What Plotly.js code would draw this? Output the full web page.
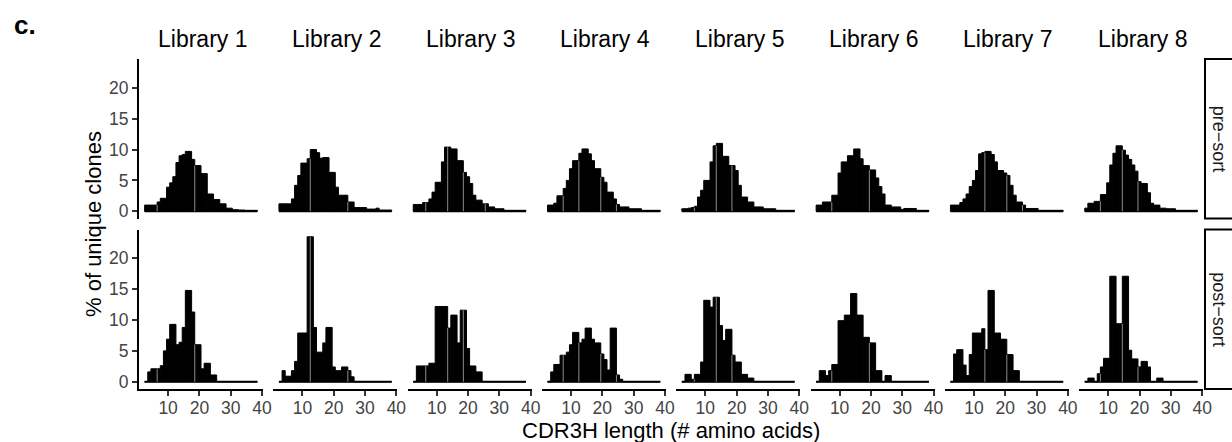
<!DOCTYPE html>
<html><head><meta charset="utf-8">
<script src="https://cdn.plot.ly/plotly-3.0.1.min.js"></script>
<style>html,body{margin:0;padding:0;background:#fff;}#chart{width:1232px;height:442px;}</style>
</head><body><div id="chart"></div>
<script>
// CDR3H length bins (# amino acids)
const lengths = [3,4,5,6,7,8,9,10,11,12,13,14,15,16,17,18,19,20,21,22,23,24,25,26,27,28,29,30,31,32,33,34,35,36,37,38];
const libraries = ['Library 1','Library 2','Library 3','Library 4','Library 5','Library 6','Library 7','Library 8'];
const sortStates = ['pre\u2212sort','post\u2212sort'];
const yTicks = [0,5,10,15,20];
const xTicks = [10,20,30,40];

// % of unique clones, pre-sort
const preSort1 = [1.0,1.0,1.0,1.0,1.5,2.1,2.1,3.9,4.6,5.6,7.9,9.0,9.2,9.7,9.7,8.4,7.4,7.4,6.1,6.1,2.8,2.8,1.9,1.9,1.2,1.2,0.5,0.5,0.25,0.25,0.2,0.2,0.15,0.15,0.15,0.15];
const preSort2 = [1.2,1.2,1.2,1.2,2.0,4.2,5.8,7.8,7.8,8.5,10.0,10.0,9.5,8.6,8.7,8.7,6.3,6.3,3.9,2.6,2.6,2.6,1.5,1.5,0.6,0.6,0.6,0.6,0.35,0.35,0.35,0.5,0.2,0.2,0.2,0.2];
const preSort3 = [1.1,1.1,1.1,1.4,1.4,2.0,3.1,4.7,4.7,8.0,10.4,10.4,10.1,10.1,8.2,8.2,6.3,5.6,4.5,2.6,1.8,1.8,1.2,1.2,0.7,0.7,0.4,0.4,0.4,0.15,0.15,0.15,0.15,0.15,0.15,0.15];
const preSort4 = [1.0,1.0,1.3,2.5,2.5,3.7,5.0,6.9,8.2,8.2,9.4,10.1,10.1,9.3,8.2,6.9,6.9,5.5,4.7,3.1,3.1,2.0,1.1,0.7,0.7,0.7,0.4,0.4,0.4,0.4,0.15,0.15,0.15,0.15,0.15,0.15];
const preSort5 = [0.4,0.4,0.5,0.6,0.8,2.3,3.4,5.0,5.0,8.0,10.6,11.0,11.0,8.9,8.9,7.4,7.4,6.6,4.2,2.3,2.3,1.5,1.5,0.7,0.7,0.7,0.4,0.4,0.4,0.4,0.15,0.15,0.15,0.15,0.15,0.15];
const preSort6 = [1.0,1.0,1.5,1.5,1.5,2.6,2.6,6.2,8.0,8.0,9.0,9.0,10.1,10.1,8.5,7.4,7.4,6.7,6.7,5.4,4.0,2.8,1.0,1.0,0.7,0.7,0.7,0.3,0.45,0.45,0.45,0.45,0.15,0.15,0.15,0.15];
const preSort7 = [1.0,1.0,1.0,1.4,2.0,2.8,4.0,5.0,6.6,9.3,9.5,9.7,9.7,9.2,8.0,6.6,6.6,6.2,5.8,4.2,2.6,1.5,1.5,1.0,0.45,0.45,0.45,0.45,0.15,0.15,0.15,0.15,0.15,0.15,0.15,0.15];
const preSort8 = [0.5,1.3,1.3,1.6,1.6,2.7,2.7,4.6,7.5,9.4,10.6,10.6,9.9,9.1,8.4,7.5,6.5,4.8,4.5,4.5,3.0,1.3,1.0,1.0,0.5,0.5,0.4,0.4,0.4,0.15,0.15,0.15,0.15,0.15,0.15,0.15];

// % of unique clones, post-sort
const postSort1 = [0,1.6,2.1,2.1,2.1,2.6,5.0,6.9,9.3,9.3,6.0,6.4,8.8,14.8,14.8,11.3,6.0,6.0,2.1,3.0,3.0,1.1,1.1,0,0,0,0,0,0,0,0,0,0,0,0,0];
const postSort2 = [0,1.8,0.9,0.9,1.8,3.3,7.9,7.9,7.9,23.5,23.5,8.8,4.8,4.8,6.3,8.8,8.8,2.4,1.8,1.8,2.4,2.4,1.8,0.8,0,0,0,0,0,0,0,0,0,0,0,0];
const postSort3 = [0,2.56,2.56,2.56,2.56,3.0,3.0,12.2,12.2,12.2,12.2,8.7,10.8,10.8,6.3,11.6,11.6,5.4,2.56,2.56,1.6,1.6,0,0,0,0,0,0,0,0,0,0,0,0,0,0];
const postSort4 = [0,1.6,2.8,2.8,4.3,4.3,4.8,6.0,8.0,8.0,6.3,6.9,8.7,8.7,6.9,6.3,6.3,4.5,3.6,1.9,8.7,8.7,1.1,0.4,0,0,0,0,0,0,0,0,0,0,0,0];
const postSort5 = [0,1.2,1.2,0.4,1.2,1.2,3.2,13.2,13.2,12.1,13.7,13.7,9.1,6.7,8.5,8.5,4.3,3.2,3.2,1.2,1.2,0.6,0.6,0,0,0,0,0,0,0,0,0,0,0,0,0];
const postSort6 = [0,1.8,1.8,1.0,1.8,2.8,2.8,9.9,9.9,10.8,10.8,14.3,14.3,10.8,10.8,7.2,7.2,6.3,6.3,1.8,1.8,0,1.0,1.0,0,0,0,0,0,0,0,0,0,0,0,0];
const postSort7 = [0,4.5,5.2,5.2,2.7,1.0,4.4,7.9,7.9,7.9,8.6,5.2,14.8,14.8,7.9,7.9,6.9,6.9,4.4,4.4,1.8,1.8,0,0,0,0,0,0,0,0,0,0,0,0,0,0];
const postSort8 = [0,0.6,0.6,0,1.3,2.4,3.8,3.8,17.1,17.1,9.4,9.4,17.1,17.1,5.1,3.7,3.7,2.4,3.3,3.3,2.4,0,0,0.6,0.6,0,0,0,0,0,0,0,0,0,0,0];

// faint light seams visible between adjacent bars (bin edges), per library column
const seamEdges1 = [6.5,18.5];
const seamEdges2 = [12.5,24.5];
const seamEdges3 = [6.5,13.5,18.5,25.5];
const seamEdges4 = [7.5,12.5,19.5,24.5];
const seamEdges5 = [6.5,13.5,18.5];
const seamEdges6 = [7.5,19.5];
const seamEdges7 = [13.5,20.5,25.5];
const seamEdges8 = [7.5,14.5,19.5];

const preSort = [preSort1,preSort2,preSort3,preSort4,preSort5,preSort6,preSort7,preSort8];
const postSort = [postSort1,postSort2,postSort3,postSort4,postSort5,postSort6,postSort7,postSort8];
const seamEdges = [seamEdges1,seamEdges2,seamEdges3,seamEdges4,seamEdges5,seamEdges6,seamEdges7,seamEdges8];

const W = 1232, H = 442;
const FONT = 'Liberation Sans, Arial, Helvetica, sans-serif';
const colLeft = 139, colPitch = 134.3, colW = 124;
const rowTop = [59, 229.5], rowBot = [218.5, 389];
const xRange = [0.7, 40.3], yRange = [-1.175, 24.675];

const data = [];
const shapes = [];
const annotations = [];
const layout = {
  width: W, height: H,
  margin: {l:0, r:0, t:0, b:0, pad:0},
  paper_bgcolor: '#fff', plot_bgcolor: 'rgba(0,0,0,0)',
  showlegend: false, bargap: 0, barmode: 'overlay',
  font: {family: FONT, color: '#000'}
};

function valueAt(vals, x) {
  const i = lengths.indexOf(x);
  return i < 0 ? 0 : vals[i];
}

for (let r = 0; r < 2; r++) {
  for (let c = 0; c < 8; c++) {
    const n = r * 8 + c + 1;
    const xa = n === 1 ? 'x' : 'x' + n;
    const ya = n === 1 ? 'y' : 'y' + n;
    const xKey = n === 1 ? 'xaxis' : 'xaxis' + n;
    const yKey = n === 1 ? 'yaxis' : 'yaxis' + n;
    const vals = r === 0 ? preSort[c] : postSort[c];
    const x0 = colLeft + c * colPitch;

    data.push({
      type: 'bar', x: lengths, y: vals, xaxis: xa, yaxis: ya, width: 1,
      marker: {color: '#000', line: {color: '#000', width: 1}}, hoverinfo: 'skip'
    });
    data.push({
      type: 'scatter', mode: 'lines', xaxis: xa, yaxis: ya,
      x: [lengths[0] - 0.5, lengths[lengths.length - 1] + 0.5], y: [0, 0],
      line: {color: '#000', width: 2.2}, hoverinfo: 'skip'
    });

    seamEdges[c].forEach(e => {
      const h = Math.min(valueAt(vals, e - 0.5), valueAt(vals, e + 0.5));
      if (h > 0) {
        shapes.push({type: 'line', xref: xa, yref: ya, x0: e, x1: e, y0: 0, y1: h,
          line: {color: 'rgb(140,140,140)', width: 1}, layer: 'above'});
      }
    });

    const bottomRow = r === 1;
    layout[xKey] = {
      domain: [x0 / W, (x0 + colW) / W], range: xRange, anchor: ya,
      showgrid: false, zeroline: false, fixedrange: true,
      showline: bottomRow, linecolor: '#000', linewidth: 2,
      ticks: bottomRow ? 'outside' : '', ticklen: 5, tickwidth: 2, tickcolor: '#333',
      tickmode: 'array', tickvals: xTicks, ticktext: xTicks.map(String),
      showticklabels: bottomRow, ticklabelstandoff: -3,
      tickfont: {family: FONT, size: 17.5, color: '#444'}
    };
    const firstCol = c === 0;
    layout[yKey] = {
      domain: [1 - rowBot[r] / H, 1 - rowTop[r] / H], range: yRange, anchor: xa,
      showgrid: false, zeroline: false, fixedrange: true,
      showline: firstCol, linecolor: '#000', linewidth: 2,
      ticks: firstCol ? 'outside' : '', ticklen: 5, tickwidth: 2, tickcolor: '#333',
      tickmode: 'array', tickvals: yTicks, ticktext: yTicks.map(String),
      showticklabels: firstCol,
      tickfont: {family: FONT, size: 17.5, color: '#444'}
    };

    if (r === 0) {
      annotations.push({xref: 'paper', yref: 'paper', x: (x0 + colW / 2 + 1) / W, y: 1 - 39 / H,
        xanchor: 'center', yanchor: 'middle', showarrow: false, text: libraries[c],
        font: {family: FONT, size: 23, color: '#000'}});
    }
  }
  // strip on the right
  shapes.push({type: 'rect', xref: 'paper', yref: 'paper',
    x0: 1205 / W, x1: 1.05, y0: 1 - rowBot[r] / H, y1: 1 - rowTop[r] / H,
    line: {color: '#000', width: 2}, fillcolor: 'rgba(0,0,0,0)', layer: 'above'});
  annotations.push({xref: 'paper', yref: 'paper', x: 1219 / W, y: 1 - (rowTop[r] + rowBot[r]) / 2 / H,
    xanchor: 'center', yanchor: 'middle', showarrow: false, textangle: 90, text: sortStates[r],
    font: {family: FONT, size: 18, color: '#1a1a1a'}});
}

annotations.push({xref: 'paper', yref: 'paper', x: 12 / W, y: 1 - 25 / H, xanchor: 'left', yanchor: 'middle',
  showarrow: false, text: '<b>c.</b>', font: {family: FONT, size: 26, color: '#000'}});
annotations.push({xref: 'paper', yref: 'paper', x: 93 / W, y: 1 - 224 / H, xanchor: 'center', yanchor: 'middle',
  showarrow: false, textangle: -90, text: '% of unique clones', font: {family: FONT, size: 22, color: '#000'}});
annotations.push({xref: 'paper', yref: 'paper', x: 671 / W, y: 1 - 430 / H, xanchor: 'center', yanchor: 'middle',
  showarrow: false, text: 'CDR3H length (# amino acids)', font: {family: FONT, size: 22, color: '#000'}});

layout.shapes = shapes;
layout.annotations = annotations;

Plotly.newPlot('chart', data, layout, {staticPlot: true, displayModeBar: false});
</script>
</body></html>
